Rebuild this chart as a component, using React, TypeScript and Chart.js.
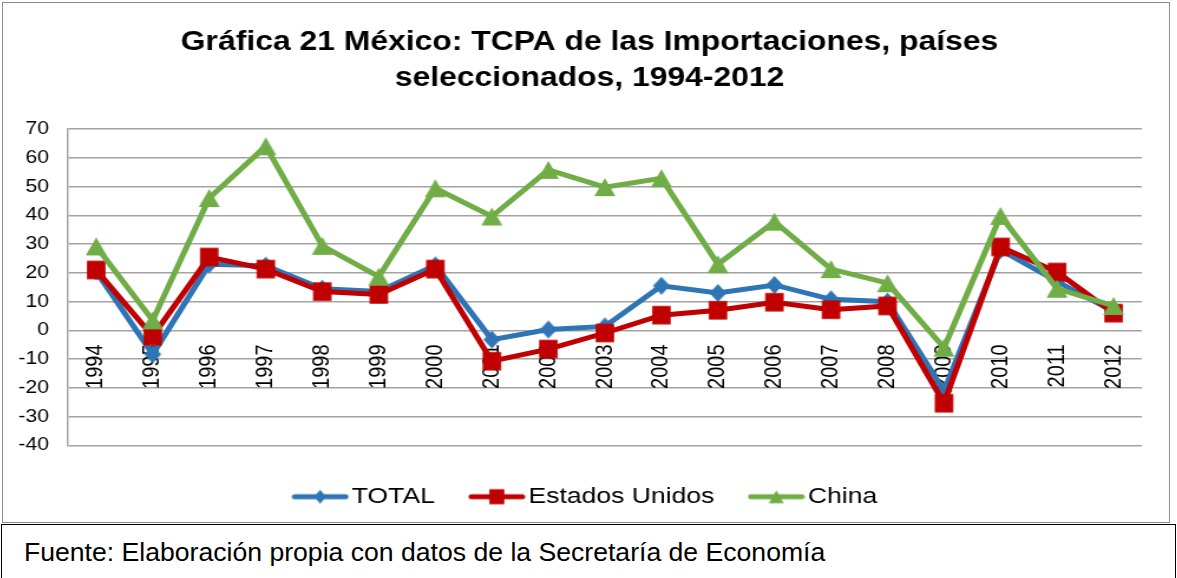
import React, { useEffect, useRef } from 'react';
import { Chart, registerables } from 'chart.js';

Chart.register(...registerables);

const years = ['1994', '1995', '1996', '1997', '1998', '1999', '2000', '2001', '2002', '2003', '2004', '2005', '2006', '2007', '2008', '2009', '2010', '2011', '2012'];
const totalValues = [20.5, -8.3, 23, 22.5, 14.5, 13.5, 22.6, -3.2, 0.3, 1.4, 15.5, 13, 15.8, 10.8, 10, -21, 28, 17, 6.5];
const estadosUnidosValues = [21, -2, 25.5, 21.3, 13.5, 12.5, 21.3, -10.7, -6.5, -0.9, 5.3, 7, 9.8, 7.2, 8.5, -25.3, 29, 20.3, 6];
const chinaValues = [29.2, 3.5, 46, 64, 29.4, 18.7, 49.4, 39.6, 55.8, 49.8, 52.9, 23, 37.8, 21.3, 16.4, -6, 39.8, 14.5, 8.5];
const seriesNames = ['TOTAL', 'Estados Unidos', 'China'];
const yMin = -40;
const yMax = 70;
const yStep = 10;
const titleLines = ['Gráfica 21 México: TCPA de las Importaciones, países', 'seleccionados, 1994-2012'];
const sourceNote = 'Fuente: Elaboración propia con datos de la Secretaría de Economía';

const STRETCH = 1166 / 988;
const BLUE = '#2E75B6';
const RED = '#C00000';
const GREEN = '#70AD47';
const FONT = '"Liberation Sans", Arial, sans-serif';

function drawShape(ctx: CanvasRenderingContext2D, kind: string, cx: number, cy: number, w: number, h: number) {
  ctx.beginPath();
  if (kind === 'diamond') {
    ctx.moveTo(cx, cy - h / 2);
    ctx.lineTo(cx + w / 2, cy);
    ctx.lineTo(cx, cy + h / 2);
    ctx.lineTo(cx - w / 2, cy);
  } else if (kind === 'square') {
    ctx.rect(cx - w / 2, cy - h / 2, w, h);
  } else {
    ctx.moveTo(cx, cy - h / 2);
    ctx.lineTo(cx + w / 2, cy + h / 2);
    ctx.lineTo(cx - w / 2, cy + h / 2);
  }
  ctx.closePath();
  ctx.fill();
}

function makeMarker(kind: string, color: string, w: number, h: number) {
  const c = document.createElement('canvas');
  c.width = Math.ceil(w) + 2;
  c.height = Math.ceil(h) + 2;
  const ctx = c.getContext('2d')!;
  ctx.fillStyle = color;
  drawShape(ctx, kind, c.width / 2, c.height / 2, w, h);
  return c;
}

function makeLegendIcon(kind: string, color: string, w: number, h: number) {
  const c = document.createElement('canvas');
  c.width = 49;
  c.height = 20;
  const ctx = c.getContext('2d')!;
  ctx.strokeStyle = color;
  ctx.lineWidth = 5;
  ctx.lineCap = 'round';
  ctx.beginPath();
  ctx.moveTo(3, 10);
  ctx.lineTo(46, 10);
  ctx.stroke();
  ctx.fillStyle = color;
  drawShape(ctx, kind, 24.5, 10, w, h);
  return c;
}

export default function App() {
  const ref = useRef<HTMLCanvasElement | null>(null);

  useEffect(() => {
    if (!ref.current) return;
    const s = STRETCH;
    const diamond = makeMarker('diamond', BLUE, 17 / s, 18);
    const square = makeMarker('square', RED, 18.5 / s, 18.5);
    const triangle = makeMarker('triangle', GREEN, 21 / s, 18);
    const icons = [
      makeLegendIcon('diamond', BLUE, 12 / s, 14),
      makeLegendIcon('square', RED, 15 / s, 15),
      makeLegendIcon('triangle', GREEN, 15 / s, 13),
    ];
    const colors = [BLUE, RED, GREEN];

    const chart = new Chart(ref.current, {
      type: 'line',
      data: {
        labels: years,
        datasets: [
          { label: seriesNames[0], data: totalValues, borderColor: BLUE, backgroundColor: BLUE, borderWidth: 5, pointStyle: diamond as any, pointRadius: 9, order: 3 },
          { label: seriesNames[1], data: estadosUnidosValues, borderColor: RED, backgroundColor: RED, borderWidth: 5, pointStyle: square as any, pointRadius: 9, order: 2 },
          { label: seriesNames[2], data: chinaValues, borderColor: GREEN, backgroundColor: GREEN, borderWidth: 5, pointStyle: triangle as any, pointRadius: 9, order: 1 },
        ],
      },
      options: {
        responsive: false,
        animation: false,
        layout: { padding: { left: 12, right: 6, top: 0, bottom: 3 } },
        font: { family: FONT },
        plugins: {
          title: {
            display: true,
            text: titleLines,
            color: '#000',
            font: { family: FONT, size: 27, weight: 'bold', lineHeight: 36 / 27 },
            padding: { top: 22, bottom: 32 },
          },
          legend: {
            display: true,
            position: 'bottom',
            title: { display: true, text: '', font: { size: 3, lineHeight: 1 }, padding: 0 },
            labels: {
              usePointStyle: true,
              pointStyleWidth: 31,
              boxHeight: 20,
              padding: 37,
              color: '#000',
              font: { family: FONT, size: 22.5 },
              generateLabels: () =>
                seriesNames.map((name, i) => ({
                  text: name,
                  fillStyle: colors[i],
                  strokeStyle: colors[i],
                  lineWidth: 0,
                  pointStyle: icons[i] as any,
                  hidden: false,
                  datasetIndex: i,
                  fontColor: '#000',
                })),
            },
          },
          tooltip: { enabled: false },
        },
        scales: {
          x: {
            type: 'category',
            position: { y: 0 } as any,
            offset: true,
            grid: { display: false, drawTicks: false },
            border: { display: false },
            ticks: { minRotation: 90, maxRotation: 90, autoSkip: false, padding: 14, color: '#000', font: { family: FONT, size: 20 } },
          },
          y: {
            min: yMin,
            max: yMax,
            afterFit: (axis: any) => {
              axis.width = 43;
            },
            ticks: { stepSize: yStep, padding: 16, color: '#000', font: { family: FONT, size: 18 } },
            grid: { color: '#a3a3a3', lineWidth: 1.5, drawTicks: false },
            border: { display: true, color: '#a3a3a3', width: 1.5 },
          },
          yRight: {
            type: 'linear',
            position: 'right',
            display: true,
            min: yMin,
            max: yMax,
            afterFit: (axis: any) => {
              axis.width = 17;
            },
            ticks: { display: false },
            grid: { display: false, drawTicks: false },
            border: { display: false },
          },
        },
      },
    });
    return () => chart.destroy();
  }, []);

  return (
    <div style={{ position: 'fixed', left: 0, top: 0, width: 1177, height: 578, overflow: 'hidden', background: '#fff' }}>
      <div style={{ position: 'absolute', left: 2, top: 2, width: 1168, height: 521, boxSizing: 'border-box', border: '1px solid #8c8c8c', overflow: 'hidden' }}>
        <canvas
          ref={ref}
          width={988}
          height={518}
          style={{ transform: `scaleX(${STRETCH})`, transformOrigin: '0 0' }}
        />
      </div>
      <div
        style={{
          position: 'absolute',
          left: 1,
          top: 524,
          width: 1175,
          height: 70,
          boxSizing: 'border-box',
          border: '1.5px solid #000',
          paddingLeft: 22,
          paddingTop: 12,
          fontFamily: FONT,
          fontSize: 26.6,
          lineHeight: '31px',
          color: '#000',
          whiteSpace: 'nowrap',
        }}
      >
        {sourceNote}
      </div>
    </div>
  );
}
